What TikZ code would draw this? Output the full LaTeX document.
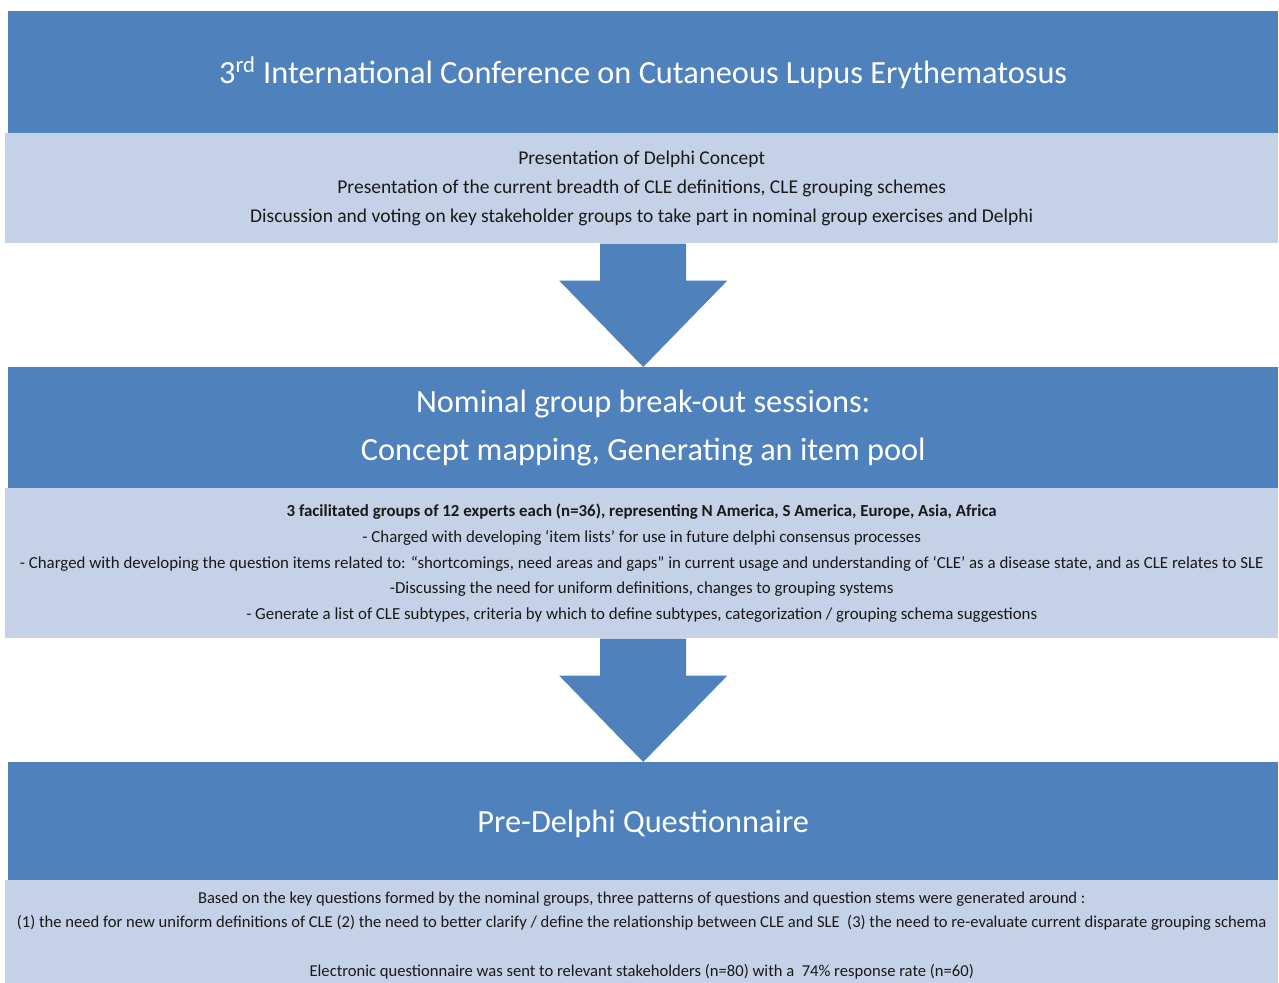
\documentclass[tikz,border=0pt]{standalone}
\usepackage{fontspec}
\setmainfont{Carlito}
\usetikzlibrary{calc}
\definecolor{headblue}{RGB}{79, 129, 189}
\definecolor{bodyblue}{RGB}{197, 209, 231}

\begin{document}
\begin{tikzpicture}[x=0.02cm, y=-0.02cm,
    headbox/.style={fill=headblue, text=white, font=\fontsize{18.4}{27.3}\selectfont, minimum width=25.4cm, anchor=north west, inner sep=0pt, align=center},
    bodybox/.style={fill=bodyblue, text=black!90, minimum width=25.46cm, anchor=north west, inner sep=0pt, align=center}]
        % Canvas
        \fill[white] (0,0) rectangle (1279,983);
        \useasboundingbox (0,0) rectangle (1279,983);

        % Conference
        \node[headbox, minimum height=2.44cm] (hd1) at (8,11) {3\textsuperscript{rd} International Conference on Cutaneous Lupus Erythematosus};
        \node[bodybox, minimum height=2.2cm, font=\fontsize{11.1}{16.4}\selectfont] (lt1) at (5,133) {Presentation of Delphi Concept\\
            Presentation of the current breadth of CLE definitions, CLE grouping schemes\\
            Discussion and voting on key stakeholder groups to take part in nominal group exercises and Delphi};

        % Nominal groups
        \node[headbox, minimum height=2.42cm] (hd2) at (8,367) {Nominal group break-out sessions:\\ Concept mapping, Generating an item pool};
        \node[bodybox, minimum height=3cm, font=\fontsize{9.6}{14.6}\selectfont] (lt2) at (5,488) {\textbf{3 facilitated groups of 12 experts each (n=36), representing N America, S America, Europe, Asia, Africa}\\
            - Charged with developing ‘item lists’ for use in future delphi consensus processes\\
            - Charged with developing the question items related to: “shortcomings, need areas and gaps” in current usage and understanding of ‘CLE’ as a disease state, and as CLE relates to SLE\\
            -Discussing the need for uniform definitions, changes to grouping systems\\
            - Generate a list of CLE subtypes, criteria by which to define subtypes, categorization / grouping schema suggestions};

        % Questionnaire
        \node[headbox, minimum height=2.48cm] (hd3) at (8,762) {Pre-Delphi Questionnaire};
        \node[bodybox, minimum height=2.2cm, font=\fontsize{9.45}{13.9}\selectfont] (lt3) at (5,880) {Based on the key questions formed by the nominal groups, three patterns of questions and question stems were generated around :\\
            (1) the need for new uniform definitions of CLE (2) the need to better clarify / define the relationship between CLE and SLE~~(3) the need to re-evaluate current disparate grouping schema\\[13.9pt]
            Electronic questionnaire was sent to relevant stakeholders (n=80) with a~~74\% response rate (n=60)};

        % Block arrows
        \foreach \src/\dst in {lt1/hd2, lt2/hd3} {
            \coordinate (top) at (\src.south -| \dst.north);
            \fill[headblue] ($(top)+(-43,0)$) -- ($(top)+(43,0)$) -- ($(top)+(43,37)$) -- ($(top)+(84,37)$)
                -- (\dst.north) -- ($(top)+(-84,37)$) -- ($(top)+(-43,37)$) -- cycle;
        }
    \end{tikzpicture}
\end{document}
